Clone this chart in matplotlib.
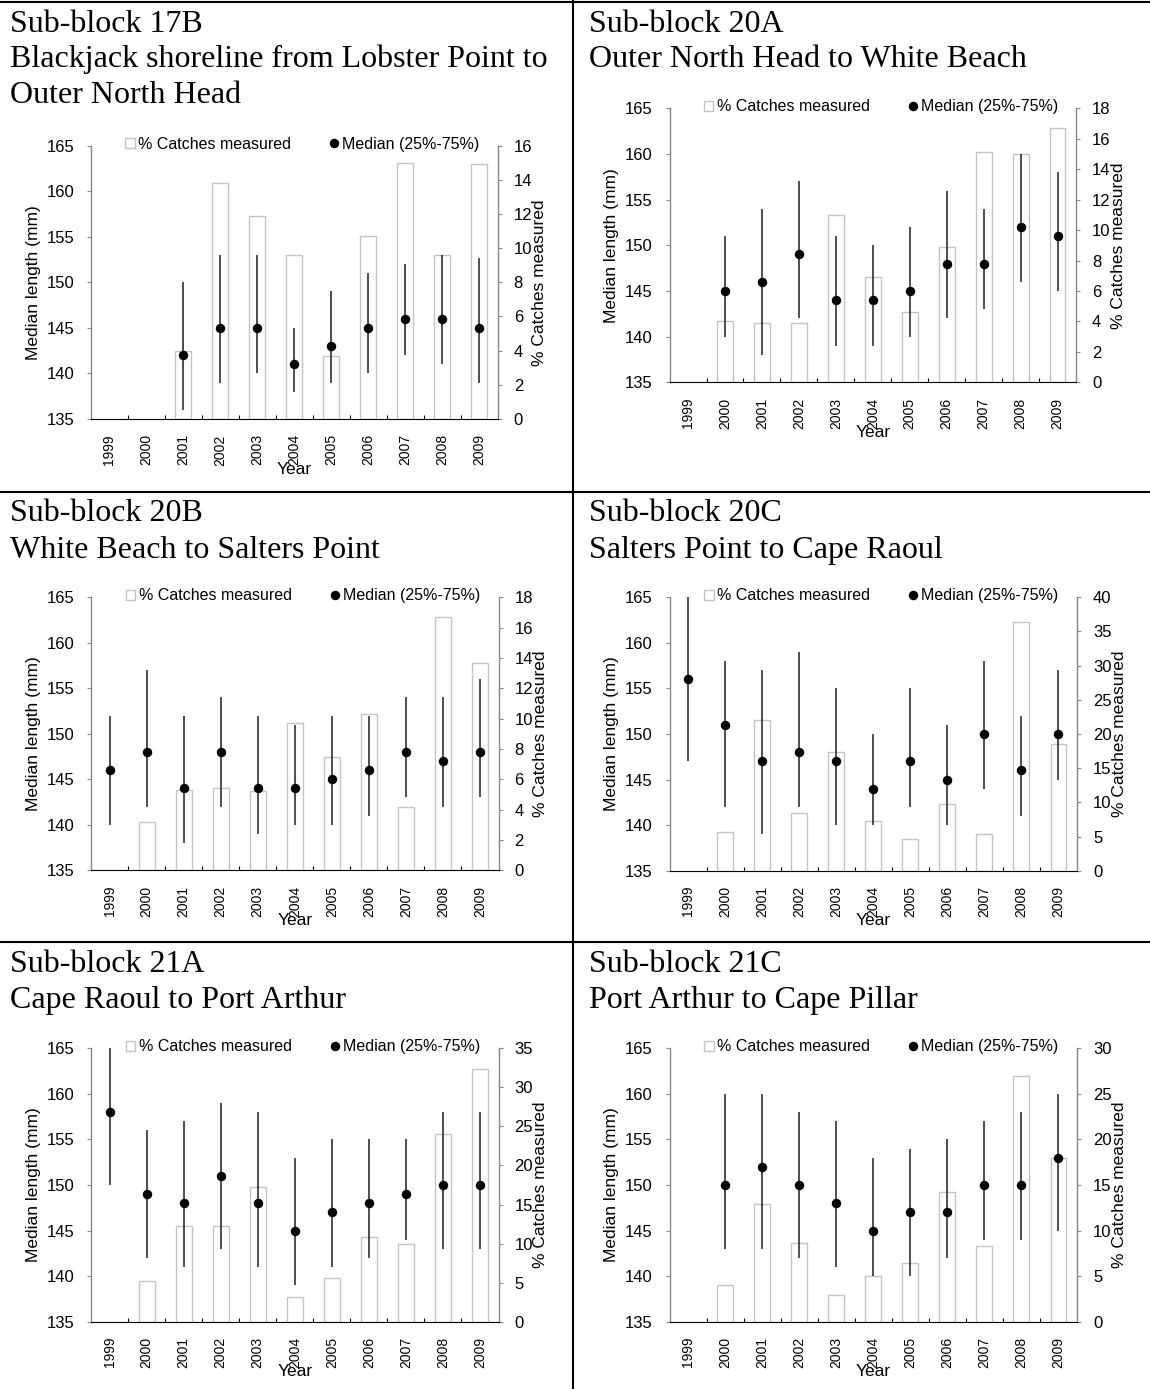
import matplotlib
matplotlib.use("Agg")
import matplotlib.pyplot as plt
from matplotlib.lines import Line2D
from matplotlib.patches import Patch
import numpy as np

nan = np.nan
years = ["1999", "2000", "2001", "2002", "2003", "2004", "2005", "2006", "2007", "2008", "2009"]

# Sub-block 17B
pct_17b = [nan, nan, 4.0, 13.8, 11.9, 9.6, 3.7, 10.7, 15.0, 9.6, 14.9]
med_17b = [nan, nan, 142, 145, 145, 141, 143, 145, 146, 146, 145]
lo_17b = [nan, nan, 136, 139, 140, 138, 139, 140, 142, 141, 139]
hi_17b = [nan, nan, 150, 153, 153, 145, 149, 151, 152, 153, 152.7]

# Sub-block 20A
pct_20a = [nan, 4.0, 3.9, 3.9, 11.0, 6.9, 4.6, 8.9, 15.1, 15.0, 16.7]
med_20a = [nan, 145, 146, 149, 144, 144, 145, 148, 148, 152, 151]
lo_20a = [nan, 140, 138, 142, 139, 139, 140, 142, 143, 146, 145]
hi_20a = [nan, 151, 154, 157, 151, 150, 152, 156, 154, 160, 158]

# Sub-block 20B
pct_20b = [nan, 3.2, 5.3, 5.4, 5.2, 9.7, 7.5, 10.3, 4.2, 16.7, 13.7]
med_20b = [146, 148, 144, 148, 144, 144, 145, 146, 148, 147, 148]
lo_20b = [140, 142, 138, 142, 139, 140, 140, 141, 143, 142, 143]
hi_20b = [152, 157, 152, 154, 152, 151, 152, 152, 154, 154, 156]

# Sub-block 20C
pct_20c = [nan, 5.7, 22.1, 8.5, 17.3, 7.2, 4.6, 9.8, 5.3, 36.4, 18.5]
med_20c = [156, 151, 147, 148, 147, 144, 147, 145, 150, 146, 150]
lo_20c = [147, 142, 139, 142, 140, 140, 142, 140, 144, 141, 145]
hi_20c = [165, 158, 157, 159, 155, 150, 155, 151, 158, 152, 157]

# Sub-block 21A
pct_21a = [nan, 5.2, 12.2, 12.3, 17.2, 3.2, 5.6, 10.9, 10.0, 24.0, 32.3]
med_21a = [158, 149, 148, 151, 148, 145, 147, 148, 149, 150, 150]
lo_21a = [150, 142, 141, 143, 141, 139, 141, 142, 144, 143, 143]
hi_21a = [165, 156, 157, 159, 158, 153, 155, 155, 155, 158, 158]

# Sub-block 21C
pct_21c = [nan, 4.0, 12.9, 8.6, 2.9, 5.0, 6.4, 14.2, 8.3, 27.0, 18.0]
med_21c = [nan, 150, 152, 150, 148, 145, 147, 147, 150, 150, 153]
lo_21c = [nan, 143, 143, 142, 141, 140, 140, 142, 144, 144, 145]
hi_21c = [nan, 160, 160, 158, 157, 153, 154, 155, 157, 158, 160]

W, H = 1150, 1389
SERIF = "Liberation Serif"
SANS = "Liberation Sans"
BAR_EDGE = "#c4c4c4"
SPINE_GREY = "#868686"


def px_rect(left, top, right, bottom):
    return [left / W, 1 - bottom / H, (right - left) / W, (bottom - top) / H]


def draw_title(fig, x, baselines, lines):
    for y, line in zip(baselines, lines):
        fig.text(x / W, 1 - y / H, line, family=SERIF, fontsize=23,
                 ha="left", va="baseline")


def draw_panel(fig, rect, pct, med, lo, hi, pct_max, pct_step):
    x = np.arange(len(years))
    ax = fig.add_axes(rect)
    ax2 = ax.twinx()
    ax.set_zorder(ax2.get_zorder() + 1)
    ax.patch.set_visible(False)

    # bars on the right scale
    ax2.bar(x, pct, width=0.43, facecolor="white", edgecolor=BAR_EDGE, linewidth=1.0)
    ax2.set_ylim(0, pct_max)
    ax2.set_yticks(np.arange(0, pct_max + 0.1, pct_step))
    ax2.tick_params(axis="y", direction="out", length=3, width=0.8, color=SPINE_GREY,
                    pad=8.5, labelsize=12)

    # medians with interquartile range
    med = np.array(med, dtype=float)
    err = [med - np.array(lo, dtype=float), np.array(hi, dtype=float) - med]
    ax.errorbar(x, med, yerr=err, fmt="o", color="black", ecolor="#1e1e1e",
                markersize=5.8, elinewidth=1.1, capsize=0)
    ax.set_ylim(135, 165)
    ax.set_yticks(np.arange(135, 166, 5))
    ax.set_xlim(-0.5, len(years) - 0.5)
    ax.set_xticks(x)
    ax.set_xticklabels(years, rotation=90, fontsize=10)
    ax.set_xticks(x[:-1] + 0.5, minor=True)
    ax.tick_params(axis="x", which="major", length=0, pad=11)
    ax.tick_params(axis="x", which="minor", direction="in", length=3, width=0.8)
    ax.tick_params(axis="y", direction="out", length=3, width=0.8, color=SPINE_GREY,
                   pad=9, labelsize=12)

    for a in (ax, ax2):
        a.spines["top"].set_visible(False)
        a.spines["left"].set_color(SPINE_GREY)
        a.spines["right"].set_color(SPINE_GREY)
        a.spines["bottom"].set_color("black")
        a.spines["left"].set_linewidth(1.0)
        a.spines["right"].set_linewidth(1.0)
    ax.spines["right"].set_visible(False)
    ax2.spines["left"].set_visible(False)
    ax2.spines["bottom"].set_visible(False)

    ax.text(-0.142, 0.5, "Median length (mm)", transform=ax.transAxes, rotation=90,
            ha="center", va="center", fontsize=12.5)
    ax.text(1.104, 0.5, "% Catches measured", transform=ax.transAxes, rotation=90,
            ha="center", va="center", fontsize=12.5)
    ax.text(0.5, -0.183, "Year", transform=ax.transAxes, ha="center", va="center",
            fontsize=12.5)

    handles = [Patch(facecolor="white", edgecolor=BAR_EDGE, linewidth=1.0),
               Line2D([], [], marker="o", color="black", linestyle="none", markersize=5.8)]
    ax.legend(handles, ["% Catches measured", "Median (25%-75%)"], loc="center",
              bbox_to_anchor=(0.52, 1.005), ncol=2, frameon=False, fontsize=11.5,
              handlelength=0.6, handleheight=0.6, handletextpad=0.2,
              columnspacing=2.4, borderpad=0, borderaxespad=0)
    return ax


plt.rcParams["font.family"] = [SANS, "DejaVu Sans"]
fig = plt.figure(figsize=(W / 100, H / 100), dpi=100)

draw_title(fig, 10, [32, 67, 103],
           ["Sub-block 17B", "Blackjack shoreline from Lobster Point to", "Outer North Head"])
draw_panel(fig, px_rect(91, 145.5, 497.7, 419), pct_17b, med_17b, lo_17b, hi_17b, 16, 2)

draw_title(fig, 589, [32, 67], ["Sub-block 20A", "Outer North Head to White Beach"])
draw_panel(fig, px_rect(669.6, 108.3, 1076, 382.3), pct_20a, med_20a, lo_20a, hi_20a, 18, 2)

draw_title(fig, 10, [521, 558], ["Sub-block 20B", "White Beach to Salters Point"])
draw_panel(fig, px_rect(91, 597.3, 498.5, 870.3), pct_20b, med_20b, lo_20b, hi_20b, 18, 2)

draw_title(fig, 589, [521, 558], ["Sub-block 20C", "Salters Point to Cape Raoul"])
draw_panel(fig, px_rect(669.6, 597.3, 1077, 870.7), pct_20c, med_20c, lo_20c, hi_20c, 40, 5)

draw_title(fig, 10, [972, 1008], ["Sub-block 21A", "Cape Raoul to Port Arthur"])
draw_panel(fig, px_rect(91, 1048.3, 498.5, 1321.7), pct_21a, med_21a, lo_21a, hi_21a, 35, 5)

draw_title(fig, 589, [972, 1008], ["Sub-block 21C", "Port Arthur to Cape Pillar"])
draw_panel(fig, px_rect(669.6, 1048.3, 1077, 1321.7), pct_21c, med_21c, lo_21c, hi_21c, 30, 5)

# table borders
border = dict(color="black", linewidth=1.5, transform=fig.transFigure)
fig.add_artist(Line2D([0, 1], [1 - 1.5 / H, 1 - 1.5 / H], **border))
fig.add_artist(Line2D([0, 1], [1 - 492 / H, 1 - 492 / H], **border))
fig.add_artist(Line2D([0, 1], [1 - 942 / H, 1 - 942 / H], **border))
fig.add_artist(Line2D([573 / W, 573 / W], [0, 1], **border))

fig.savefig("out.png", dpi=100)
